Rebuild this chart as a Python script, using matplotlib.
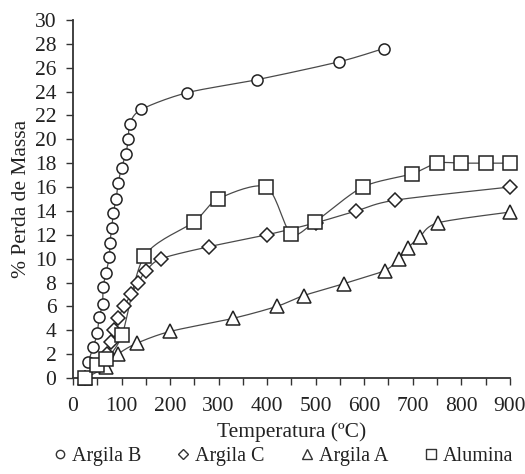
import numpy as np
import matplotlib
matplotlib.use("Agg")
import matplotlib.pyplot as plt
from matplotlib.lines import Line2D

plt.rcParams['font.family'] = ['Liberation Serif', 'DejaVu Serif']

# Data
argila_b_x = [31, 42, 50, 54, 61, 62, 68, 75, 76, 80, 83, 89, 93, 100, 109, 114, 117, 141, 235, 380, 549, 640]
argila_b_y = [1.3, 2.6, 3.8, 5.1, 6.2, 7.6, 8.8, 10.1, 11.3, 12.6, 13.8, 15.0, 16.3, 17.6, 18.8, 20.0, 21.3, 22.5, 23.9, 25.0, 26.5, 27.6]

argila_c_x = [25, 55, 70, 78, 85, 93, 105, 120, 134, 151, 182, 280, 400, 500, 584, 664, 900]
argila_c_y = [0, 1.0, 2.0, 3.0, 4.0, 5.0, 6.0, 7.0, 8.0, 9.0, 10.0, 11.0, 12.0, 13.0, 14.0, 14.9, 16.0]

argila_a_x = [25, 69, 93, 131, 200, 330, 420, 475, 558, 642, 672, 690, 714, 752, 900]
argila_a_y = [0, 0.95, 2.0, 2.9, 3.9, 5.0, 6.0, 6.9, 7.9, 9.0, 10.0, 10.9, 11.8, 13.0, 13.9]

alumina_x = [25, 49, 68, 101, 147, 250, 299, 398, 449, 499, 597, 698, 750, 800, 850, 900]
alumina_y = [0, 1.1, 1.6, 3.6, 10.2, 13.1, 15.0, 16.0, 12.1, 13.1, 16.0, 17.1, 18.0, 18.0, 18.0, 18.0]

x_ticks = list(range(0, 901, 50))
x_labels = [str(t) if t % 100 == 0 else '' for t in x_ticks]
y_ticks = list(range(0, 31, 2))


def smooth(xs, ys, n=20):
    # Catmull-Rom style curve through the points (like Excel smoothed lines)
    p = np.column_stack([xs, ys]).astype(float)
    out = []
    for i in range(len(p) - 1):
        p0 = p[i - 1] if i > 0 else p[i]
        p1, p2 = p[i], p[i + 1]
        p3 = p[i + 2] if i + 2 < len(p) else p[i + 1]
        c1 = p1 + (p2 - p0) / 7.0
        c2 = p2 - (p3 - p1) / 7.0
        t = np.linspace(0, 1, n)[:, None]
        seg = ((1 - t) ** 3) * p1 + 3 * ((1 - t) ** 2) * t * c1 + 3 * (1 - t) * t ** 2 * c2 + t ** 3 * p2
        out.append(seg)
    s = np.vstack(out)
    return s[:, 0], s[:, 1]


fig = plt.figure(figsize=(5.25, 4.74), dpi=100)
ax = fig.add_axes([0.139, 0.2025, 0.832, 0.7555])

series = [
    (argila_b_x, argila_b_y, 'o', 8),
    (argila_c_x, argila_c_y, 'D', 6.8),
    (argila_a_x, argila_a_y, '^', 9.5),
    (alumina_x, alumina_y, 's', 10),
]
line_color = '#4a4a4a'
for xs, ys, m, ms in series:
    sx, sy = smooth(xs, ys)
    ax.plot(sx, sy, color=line_color, lw=0.9, zorder=2)
    ax.plot(xs, ys, linestyle='none', marker=m, markersize=ms, markerfacecolor='white',
            markeredgecolor='#222222', markeredgewidth=1.1, clip_on=False, zorder=3)

ax.set_xlim(0, 900)
ax.set_ylim(0, 30)
ax.set_xticks(x_ticks)
ax.set_xticklabels(x_labels)
ax.set_yticks(y_ticks)

for side in ['top', 'right']:
    ax.spines[side].set_visible(False)
for side in ['left', 'bottom']:
    ax.spines[side].set_color('#333333')
    ax.spines[side].set_linewidth(1.3)

ax.tick_params(axis='both', direction='out', length=5, width=1, color='#333333',
               labelsize=15.5, labelcolor='#222222')
ax.tick_params(axis='x', pad=9)
ax.tick_params(axis='y', pad=7)

ax.set_xlabel('Temperatura (ºC)', fontsize=15.5, color='#222222', labelpad=4)
ax.set_ylabel('% Perda de Massa', fontsize=15.5, color='#222222', labelpad=3)

handles = [
    Line2D([], [], linestyle='none', marker='o', markersize=6, markerfacecolor='white', markeredgecolor='#333333'),
    Line2D([], [], linestyle='none', marker='D', markersize=5, markerfacecolor='white', markeredgecolor='#333333'),
    Line2D([], [], linestyle='none', marker='^', markersize=7, markerfacecolor='white', markeredgecolor='#333333'),
    Line2D([], [], linestyle='none', marker='s', markersize=7, markerfacecolor='white', markeredgecolor='#333333'),
]
labels = ['Argila B', 'Argila C', 'Argila A', 'Alumina']
fig.legend(handles, labels, loc='lower center', bbox_to_anchor=(0.54, -0.022), ncol=4,
           frameon=False, fontsize=14.5, handlelength=0.6, handletextpad=0.3, columnspacing=1.8,
           labelcolor='#222222')

fig.savefig('out.png', dpi=100)
plt.close(fig)
